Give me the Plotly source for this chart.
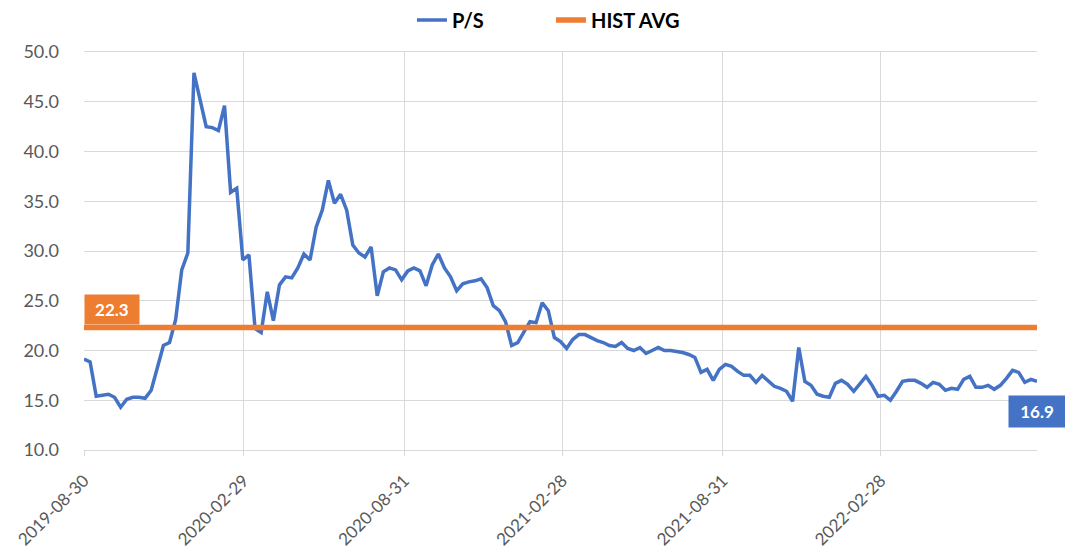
import pandas as pd
import plotly.graph_objects as go

start_date = "2019-08-30"
n_weeks = 157
dates = pd.date_range(start=start_date, periods=n_weeks, freq="7D")

ps_values = [
    19.15, 18.85, 15.4, 15.5, 15.6, 15.3, 14.3, 15.1, 15.3, 15.3,
    15.2, 16.0, 18.3, 20.5, 20.8, 23.1, 28.1, 29.8, 47.9, 45.2,
    42.5, 42.4, 42.1, 44.6, 35.9, 36.3, 29.1, 29.6, 22.2, 21.8,
    25.9, 23.0, 26.6, 27.4, 27.3, 28.3, 29.7, 29.1, 32.4, 34.1,
    37.1, 34.8, 35.7, 34.1, 30.6, 29.8, 29.4, 30.4, 25.5, 27.9,
    28.3, 28.1, 27.1, 28.0, 28.3, 28.0, 26.5, 28.6, 29.7, 28.3,
    27.4, 26.0, 26.7, 26.9, 27.0, 27.2, 26.3, 24.5, 24.0, 22.9,
    20.5, 20.8, 21.8, 22.9, 22.8, 24.8, 24.0, 21.3, 20.9, 20.2,
    21.1, 21.6, 21.6, 21.3, 21.0, 20.8, 20.5, 20.4, 20.8, 20.2,
    20.0, 20.3, 19.7, 20.0, 20.3, 20.0, 20.0, 19.9, 19.8, 19.6,
    19.3, 17.8, 18.1, 17.0, 18.1, 18.6, 18.4, 17.9, 17.5, 17.5,
    16.8, 17.5, 17.0, 16.4, 16.2, 15.9, 14.9, 20.3, 16.9, 16.5,
    15.6, 15.4, 15.3, 16.7, 17.0, 16.6, 15.9, 16.7, 17.4, 16.5,
    15.4, 15.5, 15.0, 15.9, 16.9, 17.0, 17.0, 16.7, 16.3, 16.8,
    16.6, 16.0, 16.2, 16.1, 17.1, 17.4, 16.3, 16.3, 16.5, 16.1,
    16.5, 17.2, 18.0, 17.8, 16.8, 17.1, 16.9,
]
hist_avg = 22.3
hist_values = [hist_avg] * n_weeks

x_tick_dates = ["2019-08-30", "2020-02-29", "2020-08-31", "2021-02-28", "2021-08-31", "2022-02-28"]
y_ticks = [10, 15, 20, 25, 30, 35, 40, 45, 50]

BLUE = "#4472C4"
ORANGE = "#ED7D31"
FONT = "Lato, Carlito, Calibri, sans-serif"

fig = go.Figure()
fig.add_trace(go.Scatter(x=dates, y=ps_values, mode="lines", name="P/S",
                         line=dict(color=BLUE, width=3.5)))
fig.add_trace(go.Scatter(x=dates, y=hist_values, mode="lines", name="HIST AVG",
                         line=dict(color=ORANGE, width=5.5)))

fig.add_annotation(x=dates[0], y=hist_avg, text="<b>22.3</b>", showarrow=False,
                   xanchor="left", yanchor="bottom", yshift=3,
                   bgcolor=ORANGE, font=dict(color="white", size=17, family=FONT),
                   borderpad=4, width=46, align="center")
fig.add_annotation(x=dates[-1], y=ps_values[-1], text="<b>16.9</b>", showarrow=False,
                   xanchor="center", yanchor="top", yshift=-14,
                   bgcolor=BLUE, font=dict(color="white", size=17, family=FONT),
                   borderpad=5, width=46, align="center")

fig.update_layout(
    width=1065, height=543,
    margin=dict(l=76, r=36, t=44, b=101),
    paper_bgcolor="white", plot_bgcolor="white",
    font=dict(family=FONT, color="#595959", size=15),
    legend=dict(orientation="h", x=0.49, xanchor="center",
                yref="container", y=0.978, yanchor="middle",
                font=dict(family=FONT, size=20, color="black", weight="bold"),
                entrywidth=94, entrywidthmode="pixels",
                tracegroupgap=0, bgcolor="rgba(0,0,0,0)"),
    showlegend=True,
)
fig.update_xaxes(
    type="date", range=[dates[0], dates[-1]], automargin=False,
    tickvals=x_tick_dates, ticktext=x_tick_dates, tickangle=-45,
    showgrid=True, gridcolor="#D9D9D9", gridwidth=1,
    showline=True, linecolor="#D9D9D9", linewidth=1, mirror=True,
    ticks="outside", ticklen=5, tickcolor="#D9D9D9",
    tickfont=dict(size=17, color="#595959"), ticklabelstandoff=8,
)
fig.update_yaxes(
    range=[10, 50], tickvals=y_ticks, tickformat=".1f", automargin=False,
    showgrid=True, gridcolor="#D9D9D9", gridwidth=1,
    showline=False, zeroline=False,
    tickfont=dict(size=18, color="#595959"), ticklabelstandoff=24,
)

fig.write_html("out.html")
